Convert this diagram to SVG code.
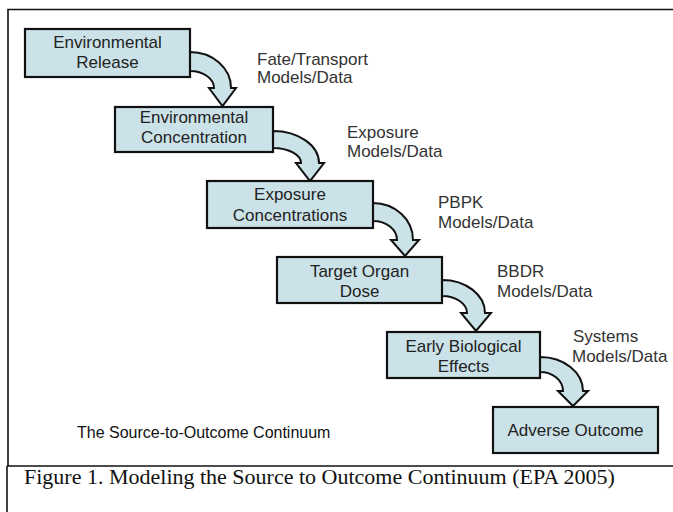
<svg xmlns="http://www.w3.org/2000/svg" width="673" height="512" viewBox="0 0 673 512">
  <style>
    .box { fill: #cbe3e8; stroke: #111; stroke-width: 2.2; }
    .arrow { fill: #cbe3e8; stroke: #111; stroke-width: 2; stroke-linejoin: miter; }
    .frame { fill: none; stroke: #111; stroke-width: 1.6; }
    .t { font-family: "Liberation Sans", Arial, sans-serif; font-size: 17px; fill: #222; text-anchor: middle; }
    .lbl { font-family: "Liberation Sans", Arial, sans-serif; font-size: 17px; fill: #333; }
    .title { font-family: "Liberation Sans", Arial, sans-serif; font-size: 16px; fill: #111; }
    .cap { font-family: "Liberation Serif", "Times New Roman", serif; font-size: 22px; fill: #111; }
  </style>

  <rect width="673" height="512" fill="#fff"/>

  <!-- outer frame and caption box -->
  <g id="frame">
    <path class="frame" d="M8,466 V9.5 H673"/>
    <path class="frame" d="M7,466 H673"/>
    <path class="frame" d="M7,466 V512"/>
  </g>

  <!-- curved block arrows between stages -->
  <g id="connectors">
    <path class="arrow" d="M190,52 A41,36 0 0 1 231,88 L236,88 L222.5,106 L209,88 L214,88 A24,17 0 0 0 190,71 Z"/>
    <path class="arrow" d="M273,131 A46,32 0 0 1 319,163 L324,163 L310,181 L296,163 L301,163 A28,15 0 0 0 273,148 Z"/>
    <path class="arrow" d="M373,203 A40,37 0 0 1 413,240 L419,240 L405,256 L391,240 L397,240 A24,19 0 0 0 373,221 Z"/>
    <path class="arrow" d="M442,280 A43,33 0 0 1 485,313 L491,313 L476,331 L461,313 L467,313 A25,17 0 0 0 442,296 Z"/>
    <path class="arrow" d="M540,357 A43,34 0 0 1 583,391 L588,391 L573,406 L558,391 L563,391 A23,19 0 0 0 540,372 Z"/>
  </g>

  <g id="n1">
    <rect class="box" x="25" y="29" width="165" height="48"/>
    <text class="t" x="107.5" y="48">Environmental</text>
    <text class="t" x="107.5" y="68">Release</text>
  </g>
  <g id="n2">
    <rect class="box" x="115" y="107" width="158" height="45"/>
    <text class="t" x="194" y="123">Environmental</text>
    <text class="t" x="194" y="143">Concentration</text>
  </g>
  <g id="n3">
    <rect class="box" x="207" y="181" width="166" height="47"/>
    <text class="t" x="290" y="200">Exposure</text>
    <text class="t" x="290" y="221">Concentrations</text>
  </g>
  <g id="n4">
    <rect class="box" x="277" y="257" width="165" height="46"/>
    <text class="t" x="359.5" y="277">Target Organ</text>
    <text class="t" x="359.5" y="297">Dose</text>
  </g>
  <g id="n5">
    <rect class="box" x="387" y="332" width="153" height="46"/>
    <text class="t" x="463.5" y="352">Early Biological</text>
    <text class="t" x="463.5" y="372">Effects</text>
  </g>
  <g id="n6">
    <rect class="box" x="493" y="407" width="165" height="46"/>
    <text class="t" x="575.5" y="436">Adverse Outcome</text>
  </g>

  <!-- model labels beside the arrows -->
  <g id="labels">
    <text class="lbl" x="257" y="65">Fate/Transport</text>
    <text class="lbl" x="257" y="83">Models/Data</text>
    <text class="lbl" x="347" y="138">Exposure</text>
    <text class="lbl" x="347" y="157">Models/Data</text>
    <text class="lbl" x="438" y="208">PBPK</text>
    <text class="lbl" x="438" y="228">Models/Data</text>
    <text class="lbl" x="497" y="277">BBDR</text>
    <text class="lbl" x="497" y="297">Models/Data</text>
    <text class="lbl" x="573" y="342">Systems</text>
    <text class="lbl" x="572" y="362">Models/Data</text>
  </g>

  <text class="title" x="77" y="438">The Source-to-Outcome Continuum</text>
  <text class="cap" x="24" y="484">Figure 1. Modeling the Source to Outcome Continuum (EPA 2005)</text>
</svg>
